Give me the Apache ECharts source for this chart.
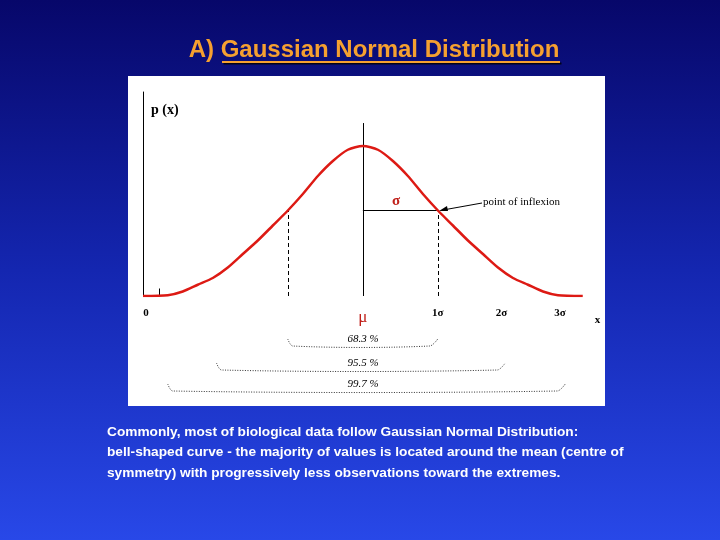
<!DOCTYPE html>
<html><head><meta charset="utf-8">
<script src="https://cdn.jsdelivr.net/npm/echarts@6/dist/echarts.min.js"></script>
<style>html,body{margin:0;padding:0;}#c{width:720px;height:540px;}</style>
</head><body><div id="c"></div>
<script>
// x in sigma units (mu = 0), y relative density (peak = 1)
const curveX = [-2.93,-2.6,-2.4,-2.2,-2.0,-1.8,-1.6,-1.4,-1.2,-1.0,-0.8,-0.6,-0.4,-0.2,0,0.2,0.4,0.6,0.8,1.0,1.2,1.4,1.6,1.8,2.0,2.2,2.4,2.6,2.93];
const curveY = [0,0.005,0.03,0.075,0.12,0.19,0.28,0.37,0.47,0.57,0.68,0.80,0.90,0.975,1.0,0.975,0.90,0.80,0.68,0.57,0.47,0.37,0.28,0.19,0.12,0.075,0.03,0.005,0];
const tickLabels = ['0','μ','1σ','2σ','3σ','x'];
const tickPos = [-2.93,0,1.0,1.85,2.63,3.13];
const bands = [['68.3 %',-1,1],['95.5 %',-1.95,1.9],['99.7 %',-2.6,2.7]];

const chart = echarts.init(document.getElementById('c'));
const X0=143, X1=582, Y0=296, S=75, H=150;
const px = v => X0 + (v - (-2.93)) * S;
const serif = 'Liberation Serif';
const g = [];
g.push({type:'rect',shape:{x:0,y:0,width:720,height:540},z:-10,style:{fill:{type:'linear',x:0,y:0,x2:0,y2:1,colorStops:[{offset:0,color:'#07076a'},{offset:0.5,color:'#1426b0'},{offset:1,color:'#2848e8'}]}}});
g.push({type:'rect',shape:{x:128,y:76,width:477,height:330},z:-5,style:{fill:'#ffffff'}});
g.push({type:'text',x:374,y:50,style:{text:'A) Gaussian Normal Distribution',font:'bold 24px Arial, "Liberation Sans"',fill:'#f5a030',align:'center',verticalAlign:'middle',shadowColor:'rgba(0,0,0,0.8)',shadowOffsetX:1.5,shadowOffsetY:1.5,shadowBlur:1}});
g.push({type:'line',shape:{x1:222,y1:62,x2:560,y2:62},style:{stroke:'#f5a030',lineWidth:2,shadowColor:'rgba(0,0,0,0.8)',shadowOffsetX:1.5,shadowOffsetY:1.5}});
tickLabels.forEach((t,i)=>{
  const red = t==='μ';
  g.push({type:'text',x:px(tickPos[i])+(i===0?3:0),y:red?318:(i===5?320:313),style:{text:t,font:(red?'17px ':'bold 11px ')+serif,fill:red?'#c0201a':'#000',align:'center',verticalAlign:'middle'}});
});
g.push({type:'text',x:151,y:110,style:{text:'p (x)',font:'bold 14px '+serif,fill:'#000',verticalAlign:'middle'}});
g.push({type:'text',x:396,y:201,style:{text:'σ',font:'bold 15px '+serif,fill:'#c0201a',align:'center',verticalAlign:'middle'}});
g.push({type:'text',x:483,y:202,style:{text:'point of inflexion',font:'11px '+serif,fill:'#000',verticalAlign:'middle'}});
g.push({type:'line',shape:{x1:482,y1:203,x2:443,y2:210},style:{stroke:'#000',lineWidth:1}});
g.push({type:'polygon',shape:{points:[[439,211],[447,206],[448,211]]},style:{fill:'#000'}});
bands.forEach((b,i)=>{
  const a=px(b[1]), c=px(b[2]), yt=[339,363,384][i], yb=yt+7;
  g.push({type:'polyline',shape:{points:[[a,yt],[a+5,yb],[c-8,yb],[c,yt]],smooth:0.3},style:{stroke:'#333',lineWidth:1,lineDash:[1,1.5],fill:null}});
  g.push({type:'text',x:363,y:yt,style:{text:b[0],font:'italic 11px '+serif,fill:'#000',align:'center',verticalAlign:'middle'}});
});
['Commonly, most of biological data follow Gaussian Normal Distribution:','bell-shaped curve - the majority of values is located around the mean (centre of','symmetry) with progressively less observations toward the extremes.'].forEach((t,i)=>{
  g.push({type:'text',x:107,y:432+i*20.5,style:{text:t,font:'bold 13.7px Arial, "Liberation Sans"',fill:'#fff',verticalAlign:'middle'}});
});

chart.setOption({
  animation:false,
  grid:{left:X0,right:720-X1,top:92,bottom:540-Y0},
  xAxis:{type:'value',min:-2.93,max:2.92,show:false},
  yAxis:{type:'value',min:0,max:1.36,axisLine:{show:true,onZero:false,lineStyle:{color:'#000',width:1}},axisTick:{show:false},axisLabel:{show:false},splitLine:{show:false}},
  graphic:g,
  series:[{type:'line',data:curveX.map((x,i)=>[x,curveY[i]]),smooth:0.25,symbol:'none',lineStyle:{color:'#dd1a14',width:2.5},z:5,
    markLine:{silent:true,symbol:'none',label:{show:false},lineStyle:{color:'#000',width:1,type:'solid'},
      data:[
        [{coord:[0,0]},{coord:[0,1.153]}],
        [{coord:[0,0.57]},{coord:[1,0.57]}],
        [{coord:[1,0],lineStyle:{type:[4,3]}},{coord:[1,0.57]}],
        [{coord:[-1,0],lineStyle:{type:[4,3]}},{coord:[-1,0.57]}],
        [{coord:[-1.94,-0.01],lineStyle:{type:[4,3]}},{coord:[-1.94,0.12]}],
        [{coord:[-2.72,0]},{coord:[-2.72,0.05]}]
      ]}}]
});
</script></body></html>
